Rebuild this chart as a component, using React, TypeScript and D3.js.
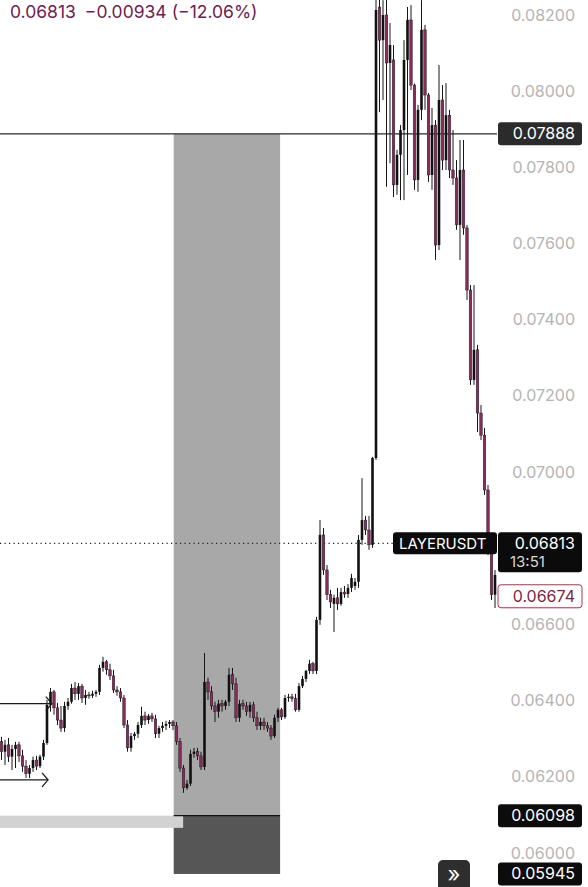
import React from 'react';
import * as d3 from 'd3';

const W = 588;
const H = 887;

// [open, high, low, close] per bar (USDT)
const candles: [number, number, number, number][] = [
  [0.06292,0.06305,0.06244,0.06266],[0.06266,0.06297,0.06231,0.06284],[0.06284,0.06302,0.06239,0.06253],
  [0.06253,0.06284,0.06218,0.06273],[0.06273,0.06292,0.06223,0.06284],[0.06284,0.06292,0.06239,0.06255],
  [0.06255,0.06271,0.06213,0.06228],[0.06228,0.06244,0.06197,0.06208],[0.06208,0.06231,0.06197,0.06223],
  [0.06223,0.06253,0.06213,0.06244],[0.06244,0.06255,0.06218,0.06228],[0.06228,0.06258,0.06223,0.06253],
  [0.06253,0.06297,0.06244,0.06289],[0.06289,0.06402,0.06284,0.06389],[0.06389,0.06433,0.06371,0.06423],
  [0.06423,0.06428,0.06363,0.06381],[0.06381,0.06394,0.06336,0.06349],[0.06349,0.06386,0.06318,0.06328],
  [0.06328,0.06397,0.06318,0.06386],[0.06386,0.06407,0.06376,0.06397],[0.06397,0.06444,0.06392,0.06433],
  [0.06433,0.06449,0.06402,0.06418],[0.06418,0.06446,0.06402,0.06438],[0.06438,0.06444,0.06394,0.06407],
  [0.06407,0.06428,0.06389,0.06415],[0.06415,0.06423,0.06405,0.06413],[0.06413,0.06426,0.06407,0.06418],
  [0.06418,0.06428,0.06410,0.06423],[0.06423,0.06494,0.06415,0.06486],[0.06486,0.06515,0.06476,0.06502],
  [0.06502,0.06507,0.06468,0.06481],[0.06481,0.06497,0.06454,0.06465],[0.06465,0.06481,0.06420,0.06428],
  [0.06428,0.06438,0.06413,0.06423],[0.06423,0.06433,0.06397,0.06407],[0.06407,0.06415,0.06328,0.06336],
  [0.06336,0.06349,0.06266,0.06276],[0.06276,0.06315,0.06266,0.06307],[0.06307,0.06318,0.06297,0.06313],
  [0.06313,0.06344,0.06302,0.06336],[0.06336,0.06384,0.06328,0.06360],[0.06360,0.06371,0.06336,0.06349],
  [0.06349,0.06365,0.06339,0.06360],[0.06360,0.06368,0.06344,0.06352],[0.06352,0.06363,0.06302,0.06313],
  [0.06313,0.06334,0.06302,0.06328],[0.06328,0.06344,0.06318,0.06334],[0.06334,0.06347,0.06323,0.06339],
  [0.06339,0.06349,0.06328,0.06344],[0.06344,0.06349,0.06323,0.06334],[0.06334,0.06344,0.06284,0.06292],
  [0.06292,0.06302,0.06213,0.06223],[0.06223,0.06231,0.06158,0.06171],[0.06171,0.06192,0.06166,0.06182],
  [0.06182,0.06271,0.06176,0.06260],[0.06260,0.06276,0.06250,0.06266],[0.06266,0.06276,0.06244,0.06255],
  [0.06255,0.06266,0.06218,0.06226],[0.06226,0.06525,0.06218,0.06449],[0.06449,0.06460,0.06402,0.06423],
  [0.06423,0.06438,0.06376,0.06386],[0.06386,0.06397,0.06344,0.06371],[0.06371,0.06402,0.06355,0.06392],
  [0.06392,0.06402,0.06371,0.06386],[0.06386,0.06402,0.06376,0.06397],[0.06397,0.06486,0.06386,0.06468],
  [0.06468,0.06486,0.06428,0.06444],[0.06444,0.06460,0.06344,0.06355],[0.06355,0.06402,0.06344,0.06392],
  [0.06392,0.06402,0.06376,0.06386],[0.06386,0.06397,0.06360,0.06371],[0.06371,0.06397,0.06355,0.06389],
  [0.06389,0.06397,0.06344,0.06355],[0.06355,0.06371,0.06323,0.06334],[0.06334,0.06355,0.06323,0.06344],
  [0.06344,0.06355,0.06323,0.06334],[0.06334,0.06344,0.06318,0.06328],[0.06328,0.06336,0.06297,0.06307],
  [0.06307,0.06363,0.06302,0.06355],[0.06355,0.06381,0.06344,0.06376],[0.06376,0.06381,0.06349,0.06357],
  [0.06357,0.06415,0.06352,0.06407],[0.06407,0.06418,0.06397,0.06410],[0.06410,0.06418,0.06397,0.06405],
  [0.06405,0.06418,0.06371,0.06376],[0.06376,0.06446,0.06371,0.06438],[0.06438,0.06465,0.06433,0.06457],
  [0.06457,0.06481,0.06449,0.06478],[0.06478,0.06507,0.06470,0.06497],[0.06497,0.06502,0.06470,0.06478],
  [0.06478,0.06620,0.06470,0.06612],[0.06612,0.06874,0.06599,0.06835],[0.06835,0.06853,0.06730,0.06743],
  [0.06743,0.06756,0.06664,0.06678],[0.06678,0.06691,0.06643,0.06659],[0.06654,0.06678,0.06580,0.06670],
  [0.06670,0.06696,0.06638,0.06654],[0.06654,0.06696,0.06649,0.06685],[0.06685,0.06701,0.06670,0.06680],
  [0.06680,0.06706,0.06670,0.06696],[0.06696,0.06733,0.06685,0.06722],[0.06701,0.06722,0.06691,0.06712],
  [0.06712,0.06835,0.06696,0.06822],[0.06822,0.06984,0.06809,0.06874],[0.06874,0.06885,0.06835,0.06848],
  [0.06848,0.06885,0.06796,0.06809],[0.06809,0.07040,0.06801,0.07037],[0.07037,0.08291,0.07032,0.08213],
  [0.08221,0.08252,0.07945,0.08134],[0.08134,0.08239,0.07977,0.08200],[0.08200,0.08252,0.07749,0.08074],
  [0.08074,0.08179,0.07811,0.08121],[0.08082,0.08121,0.07722,0.07754],[0.07754,0.07846,0.07728,0.07833],
  [0.07833,0.07911,0.07714,0.07898],[0.07898,0.08134,0.07714,0.08082],[0.08082,0.08221,0.07780,0.08187],
  [0.08187,0.08226,0.08003,0.08016],[0.08016,0.08020,0.07741,0.07767],[0.07767,0.07964,0.07736,0.07951],
  [0.07951,0.08239,0.07924,0.08161],[0.08161,0.08174,0.07951,0.07990],[0.07990,0.07995,0.07762,0.07780],
  [0.07780,0.07956,0.07741,0.07911],[0.07911,0.07924,0.07557,0.07596],[0.07596,0.08069,0.07583,0.07977],
  [0.07977,0.08016,0.07793,0.07819],[0.07819,0.08021,0.07793,0.07937],[0.07937,0.07951,0.07772,0.07793],
  [0.07793,0.07898,0.07754,0.07772],[0.07772,0.07819,0.07636,0.07649],[0.07649,0.07872,0.07557,0.07793],
  [0.07793,0.07872,0.07623,0.07641],[0.07641,0.07649,0.07452,0.07478],[0.07478,0.07491,0.07229,0.07242],
  [0.07242,0.07491,0.07229,0.07321],[0.07321,0.07334,0.07105,0.07155],[0.07155,0.07176,0.07084,0.07097],
  [0.07097,0.07116,0.06940,0.06953],[0.06953,0.06966,0.06782,0.06796],[0.06796,0.06809,0.06664,0.06678],
  [0.06678,0.06743,0.06643,0.06730],
];

const yTicks = [0.06, 0.062, 0.064, 0.066, 0.068, 0.07, 0.072, 0.074, 0.076, 0.078, 0.08, 0.082];
const headerParts = ['0.06813', '−0.00934', '(−12.06%)'];
const symbol = 'LAYERUSDT';
const lastPrice = 0.06813;
const countdown = '13:51';
const levelLine = 0.07888;
const lowMark = 0.06674;
// position tool (bar indexes and prices)
const zone = { from: 49.2, to: 79.6, top: 0.07888, entry: 0.06098, stop: 0.05945 };
const strip = { from: -2, to: 51.9, top: 0.06098, bottom: 0.06066 };
const arrows = [
  { price: 0.06392, to: 14.4 },
  { price: 0.06192, to: 13.3 },
];

const UP = '#111111';
const DOWN = '#862a5c';
const FONT = "Inter, 'Noto Sans', 'DejaVu Sans', sans-serif";

export default function App() {
  const x = d3.scaleLinear().domain([0, candles.length - 1]).range([1.5, 495]);
  const y = d3.scaleLinear().domain([0.06, 0.082]).range([853, 15]);
  const fmt = d3.format('.5f');
  const bw = 2.6;
  const plotRight = 497;

  const priceBox = (v: number, fill: string, label?: string, opts?: any) => {
    const cy = y(v);
    return (
      <g key={'pb' + v}>
        <rect x={498} y={cy - 11.5} width={84} height={23} rx={3}
          fill={fill} stroke={opts?.stroke || 'none'} strokeWidth={1} />
        <text x={575} y={cy + 5.5} textAnchor="end" fontSize={16} fontFamily={FONT}
          fill={opts?.color || '#fff'}>{label || fmt(v)}</text>
      </g>
    );
  };

  // tick labels hidden behind the last-price label
  const lastTop = y(lastPrice) - 11;
  const lastBottom = y(lastPrice) + 29;
  const visibleTicks = yTicks.filter((t) => {
    const ty = y(t);
    return ty + 8 < lastTop || ty - 8 > lastBottom;
  });

  return (
    <svg width={W} height={H} viewBox={`0 0 ${W} ${H}`}
      style={{ position: 'absolute', left: 0, top: 0, display: 'block', background: '#fff' }}>
      <defs>
        <clipPath id="plot"><rect x={0} y={0} width={plotRight} height={H} /></clipPath>
      </defs>
      <rect width={W} height={H} fill="#fff" />

      <g clipPath="url(#plot)">
        {/* position tool */}
        <rect x={x(zone.from)} y={y(zone.top)} width={x(zone.to) - x(zone.from)}
          height={y(zone.entry) - y(zone.top)} fill="#a8a8a8" />
        <rect x={x(zone.from)} y={y(zone.entry)} width={x(zone.to) - x(zone.from)}
          height={y(zone.stop) - y(zone.entry)} fill="#565656" />
        <rect x={x(strip.from)} y={y(strip.top)} width={x(strip.to) - x(strip.from)}
          height={y(strip.bottom) - y(strip.top)} fill="#d2d2d2" />
        <line x1={x(zone.from)} x2={x(zone.to)} y1={y(zone.entry)} y2={y(zone.entry)}
          stroke="#111" strokeWidth={1.2} />

        {/* level line */}
        <line x1={0} x2={plotRight} y1={y(levelLine)} y2={y(levelLine)} stroke="#2a2a2a" strokeWidth={1.1} />
        {/* last price dotted line */}
        <line x1={0} x2={393} y1={y(lastPrice)} y2={y(lastPrice)} stroke="#222"
          strokeWidth={1.2} strokeDasharray="1.2,3.3" />

        {/* candles */}
        {candles.map(([o, h, l, c], i) => {
          const cx = x(i);
          const up = c >= o;
          const top = y(Math.max(o, c));
          const bot = y(Math.min(o, c));
          return (
            <g key={i}>
              <line x1={cx} x2={cx} y1={y(h)} y2={y(l)} stroke="#161616" strokeWidth={1} />
              <rect x={cx - bw / 2} y={top} width={bw} height={Math.max(1, bot - top)}
                fill={up ? UP : DOWN} stroke={up ? 'none' : '#1d1d1d'} strokeWidth={up ? 0 : 0.45} />
            </g>
          );
        })}

        {/* drawn arrows */}
        {arrows.map((a, k) => {
          const ay = y(a.price);
          const ax = x(a.to);
          return (
            <g key={'a' + k} stroke="#1b1b1b" strokeWidth={1.3} fill="none">
              <line x1={0} x2={ax} y1={ay} y2={ay} />
              <polyline points={`${ax - 6},${ay - 7} ${ax},${ay} ${ax - 6},${ay + 7}`} />
            </g>
          );
        })}
      </g>

      {/* axis labels */}
      {visibleTicks.map((t) => (
        <text key={t} x={575} y={y(t) + 5.5} textAnchor="end" fontSize={16}
          fontFamily={FONT} fill="#b4b4b4">{fmt(t)}</text>
      ))}

      {/* price labels */}
      {priceBox(levelLine, '#2b2b2b')}
      {priceBox(zone.entry, '#0c0c0c')}
      {priceBox(zone.stop, '#0c0c0c')}
      {priceBox(lowMark, '#ffffff', undefined, { stroke: '#a8324a', color: '#7f1f3f' })}

      {/* symbol & last price */}
      <rect x={393} y={y(lastPrice) - 11} width={104} height={22} rx={3} fill="#0b0b0b" />
      <text x={399} y={y(lastPrice) + 5.5} fontSize={15} fontFamily={FONT} fill="#fff">{symbol}</text>
      <rect x={498} y={y(lastPrice) - 11} width={84} height={40} rx={3} fill="#0b0b0b" />
      <text x={575} y={y(lastPrice) + 6} textAnchor="end" fontSize={16} fontFamily={FONT} fill="#fff">{fmt(lastPrice)}</text>
      <text x={510} y={y(lastPrice) + 24} fontSize={15} fontFamily={FONT} fill="#d8d8d8">{countdown}</text>

      {/* scroll button */}
      <rect x={438} y={860} width={32} height={34} rx={5} fill="#2e2e2e" />
      <text x={454} y={882} textAnchor="middle" fontSize={22} fontFamily={FONT} fill="#fff">»</text>

      {/* header */}
      <text x={10} y={18} fontSize={17.5} fontFamily={FONT} fill="#6e2150">
        <tspan>{headerParts[0]}</tspan>
        <tspan dx={9}>{headerParts[1]}</tspan>
        <tspan dx={5}>{headerParts[2]}</tspan>
      </text>
    </svg>
  );
}
